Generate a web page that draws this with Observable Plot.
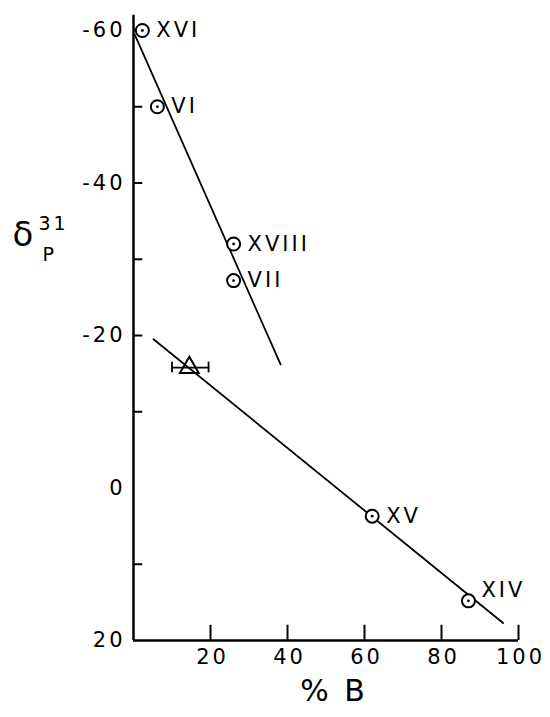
<!DOCTYPE html>
<html>
<head>
<meta charset="utf-8">
<script src="https://cdn.jsdelivr.net/npm/d3@7"></script>
<script src="https://cdn.jsdelivr.net/npm/@observablehq/plot@0.6"></script>
<style>
  html, body { margin: 0; padding: 0; background: #fff; }
  #chart svg { display: block; }
  #chart svg text { letter-spacing: 3px; }
</style>
</head>
<body>
<div id="chart"></div>
<script>
// Compounds (circles with centre dot)
const names   = ["XVI", "VI", "XVIII", "VII", "XV", "XIV"];
const pctB    = [2.3, 6.2, 26, 26, 62, 87];
const delta   = [-60, -50, -32, -27.2, 3.7, 14.8];

// Triangle point with horizontal error bar
const triX = [14.5];
const triY = [-15.8];
const triLo = [10];
const triHi = [19.5];

// Fitted lines (endpoints)
const line1X = [0.3, 38.2];
const line1Y = [-59.5, -16.2];
const line2X = [5.2, 96];
const line2Y = [-19.5, 17.7];

// Axis ticks
const xTicks = [20, 40, 60, 80, 100];
const yLabelTicks = [-60, -40, -20, 0, 20];
const yMarkTicks = [-60, -50, -40, -30, -20, -10, 10];

const pts = names.map((n, i) => ({name: n, x: pctB[i], y: delta[i]}));
const tri = triX.map((x, i) => ({x, y: triY[i], lo: triLo[i], hi: triHi[i]}));
const lines = [
  ...line1X.map((x, i) => ({g: 1, x, y: line1Y[i]})),
  ...line2X.map((x, i) => ({g: 2, x, y: line2Y[i]}))
];

const font = "DejaVu Sans, sans-serif";

const chart = Plot.plot({
  width: 550,
  height: 717,
  marginLeft: 133,
  marginRight: 32,
  marginTop: 30,
  marginBottom: 77,
  style: {fontFamily: font, color: "#000", background: "#fff"},
  x: {domain: [0, 100]},
  y: {domain: [-60, 20], reverse: true},
  marks: [
    // axis lines
    Plot.ruleX([0], {y1: -62, y2: 20, stroke: "#000", strokeWidth: 2.5}),
    Plot.ruleY([20], {x1: 0, x2: 100, stroke: "#000", strokeWidth: 2.5}),
    // inward ticks
    Plot.ruleX(xTicks, {x: d => d, y1: 20, y2: 18, stroke: "#000", strokeWidth: 2}),
    Plot.ruleY(yMarkTicks, {y: d => d, x1: 0, x2: 2.4, stroke: "#000", strokeWidth: 2}),
    // tick labels
    Plot.axisX({ticks: xTicks, tickSize: 0, tickPadding: 9, fontSize: 21, label: null, dx: 2, tickFormat: d => String(d)}),
    Plot.axisY({ticks: yLabelTicks, tickSize: 0, tickPadding: 8, fontSize: 21, label: null, tickFormat: d => String(d)}),
    // fitted lines
    Plot.line(lines, {x: "x", y: "y", z: "g", stroke: "#000", strokeWidth: 1.8}),
    // error bar
    Plot.ruleY(tri, {y: "y", x1: "lo", x2: "hi", stroke: "#000", strokeWidth: 1.8}),
    Plot.ruleX(tri, {x: "lo", y1: d => d.y - 0.7, y2: d => d.y + 0.7, stroke: "#000", strokeWidth: 1.8}),
    Plot.ruleX(tri, {x: "hi", y1: d => d.y - 0.7, y2: d => d.y + 0.7, stroke: "#000", strokeWidth: 1.8}),
    Plot.dot(tri, {x: "x", y: "y", symbol: "triangle", r: 7, stroke: "#000", fill: "none", strokeWidth: 2}),
    // circles with centre dots
    Plot.dot(pts, {x: "x", y: "y", r: 6.5, stroke: "#000", fill: "#fff", strokeWidth: 2}),
    Plot.dot(pts, {x: "x", y: "y", r: 1.4, fill: "#000"}),
    // point labels
    Plot.text(pts.filter(d => d.name !== "XIV"), {x: "x", y: "y", text: "name", textAnchor: "start", dx: 14, fontSize: 21, fill: "#000"}),
    Plot.text(pts.filter(d => d.name === "XIV"), {x: "x", y: "y", text: "name", textAnchor: "start", dx: 13, dy: -11, fontSize: 21, fill: "#000"}),
    // axis titles
    Plot.text(["% B"], {frameAnchor: "bottom", dx: 8, dy: 60, fontSize: 30, fill: "#000", text: d => d}),
    Plot.text(["δ"], {frameAnchor: "top-left", dx: -121, dy: 191, fontSize: 34, fill: "#000", text: d => d}),
    Plot.text(["31"], {frameAnchor: "top-left", dx: -95, dy: 186, fontSize: 19, fill: "#000", text: d => d}),
    Plot.text(["P"], {frameAnchor: "top-left", dx: -91, dy: 217, fontSize: 19, fill: "#000", text: d => d})
  ]
});

document.getElementById("chart").appendChild(chart);
</script>
</body>
</html>
